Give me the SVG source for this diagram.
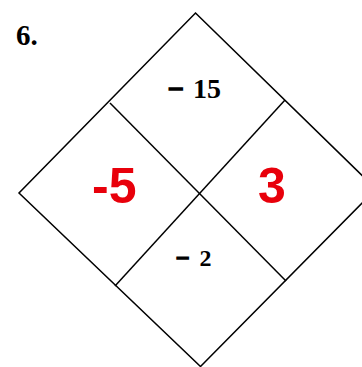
<svg xmlns="http://www.w3.org/2000/svg" width="362" height="367" viewBox="0 0 362 367">
<style>
.ln{fill:none;stroke:#000;stroke-width:1.5;stroke-linejoin:miter}
.blk{font-family:"Liberation Serif","Times New Roman",serif;font-weight:bold;fill:#000}
.mn{stroke:#000;stroke-width:1.6}
.red{font-family:"Liberation Sans",Arial,sans-serif;font-weight:bold;fill:#e8000b;font-size:50px}
</style>
<rect width="362" height="367" fill="#fff"/>
<text class="blk" x="16" y="45" font-size="29">6.</text>
<g id="connectors">
<polygon class="ln" points="195.5,13 376,189 200.5,366.5 19,193"/>
<line class="ln" x1="110" y1="103" x2="286" y2="281"/>
<line class="ln" x1="285" y1="100" x2="115" y2="286"/>
</g>
<g id="top">
<text class="blk" y="98" font-size="28"><tspan class="mn" x="168">−</tspan><tspan x="193">15</tspan></text>
</g>
<g id="left">
<text class="red" x="92" y="202.5">-5</text>
</g>
<g id="right">
<text class="red" x="258" y="202.5">3</text>
</g>
<g id="bottom">
<text class="blk" y="266" font-size="24"><tspan class="mn" x="176">−</tspan><tspan x="199.5">2</tspan></text>
</g>
</svg>
